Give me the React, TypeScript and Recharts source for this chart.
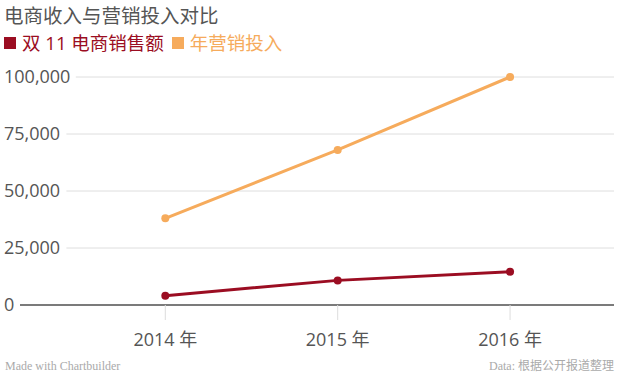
import React from "react";
import {
  CartesianGrid,
  Line,
  LineChart,
  ReferenceLine,
  XAxis,
  YAxis,
} from "recharts";

const years = [2014, 2015, 2016];
const double11Sales = [4100, 10800, 14600];
const marketingSpend = [38000, 68000, 100000];
const yTicks = [0, 25000, 50000, 75000, 100000];

const RED = "#9b0d22";
const ORANGE = "#f6ab5c";
const FONT = "'Open Sans', 'Noto Sans CJK SC', sans-serif";

const data = years.map((year, i) => ({
  year,
  sales: double11Sales[i],
  spend: marketingSpend[i],
}));

const YTick = ({ y, payload }: any) => {
  const label = payload.value.toLocaleString("en-US");
  const w = label.length * 9.4 + 6;
  return (
    <g>
      <rect x={0} y={y - 12} width={w + 4} height={24} fill="#fff" />
      <text
        x={4}
        y={y}
        dy={6}
        textAnchor="start"
        fontSize={18}
        fontFamily={FONT}
        fill="#555"
      >
        {label}
      </text>
    </g>
  );
};

const XTick = ({ x, y, payload }: any) => (
  <text
    x={x}
    y={y}
    dy={24}
    textAnchor="middle"
    fontSize={18}
    fontFamily={FONT}
    fill="#555"
  >
    {`${payload.value} 年`}
  </text>
);

const App = () => {
  return (
    <div
      style={{
        position: "absolute",
        left: 0,
        top: 0,
        width: 620,
        height: 376,
        background: "#fff",
        fontFamily: FONT,
      }}
    >
      <div
        style={{
          position: "absolute",
          left: 4,
          top: 3,
          fontSize: 19.5,
          color: "#555",
          whiteSpace: "nowrap",
          lineHeight: "26px",
        }}
      >
        电商收入与营销投入对比
      </div>
      <div
        style={{
          position: "absolute",
          left: 4,
          top: 30,
          fontSize: 18.5,
          lineHeight: "26px",
          whiteSpace: "nowrap",
          display: "flex",
          alignItems: "center",
        }}
      >
        <span style={{ display: "inline-block", width: 12, height: 12, background: RED, marginRight: 6 }} />
        <span style={{ color: RED, marginRight: 8 }}>双 11 电商销售额</span>
        <span style={{ display: "inline-block", width: 12, height: 12, background: ORANGE, marginRight: 6 }} />
        <span style={{ color: ORANGE }}>年营销投入</span>
      </div>

      <LineChart
        width={620}
        height={376}
        data={data}
        margin={{ top: 77, right: 6, bottom: 31, left: 0 }}
      >
        <CartesianGrid horizontal vertical={false} stroke="#dedede" />
        <XAxis
          dataKey="year"
          type="number"
          domain={[2013.157, 2016.603]}
          ticks={years}
          axisLine={false}
          tickLine={{ stroke: "#ddd" }}
          tickSize={15}
          height={40}
          tick={<XTick />}
          interval={0}
        />
        <YAxis
          type="number"
          domain={[0, 100000]}
          ticks={yTicks}
          width={20}
          axisLine={false}
          tickLine={false}
          tick={<YTick />}
          interval={0}
        />
        <ReferenceLine y={0} stroke="#555" strokeWidth={1.5} />
        <Line
          dataKey="spend"
          stroke={ORANGE}
          strokeWidth={3}
          dot={{ r: 4, fill: ORANGE, stroke: ORANGE, strokeWidth: 0 }}
          isAnimationActive={false}
        />
        <Line
          dataKey="sales"
          stroke={RED}
          strokeWidth={3}
          dot={{ r: 4, fill: RED, stroke: RED, strokeWidth: 0 }}
          isAnimationActive={false}
        />
      </LineChart>

      <div
        style={{
          position: "absolute",
          left: 5,
          top: 359,
          fontSize: 12,
          lineHeight: "15px",
          color: "#aaa",
          fontFamily: "'Liberation Serif', serif",
          whiteSpace: "nowrap",
        }}
      >
        Made with Chartbuilder
      </div>
      <div
        style={{
          position: "absolute",
          right: 6,
          top: 359,
          fontSize: 12,
          lineHeight: "15px",
          color: "#aaa",
          fontFamily: "'Liberation Serif', 'Noto Sans CJK SC', serif",
          whiteSpace: "nowrap",
        }}
      >
        Data: 根据公开报道整理
      </div>
    </div>
  );
};

export default App;
